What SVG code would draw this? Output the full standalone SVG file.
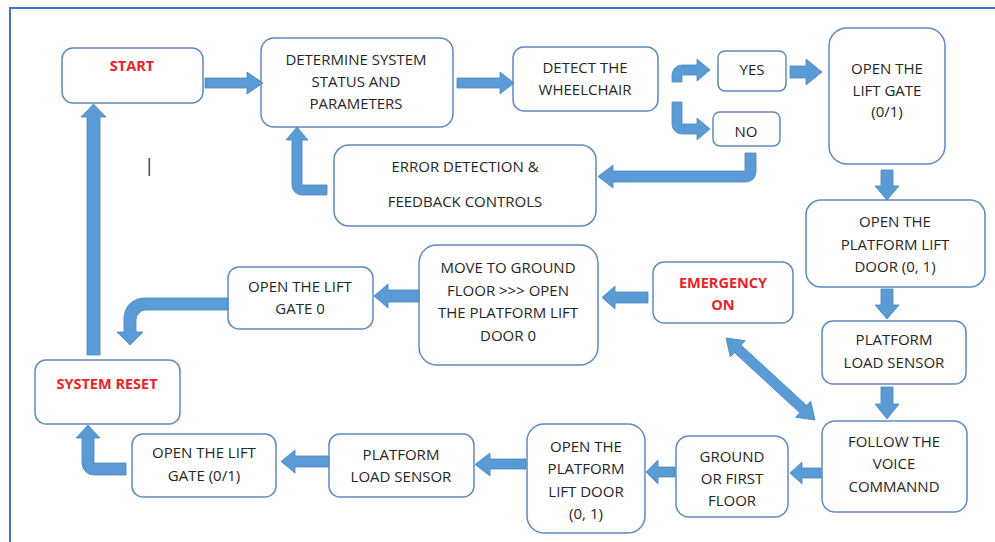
<svg xmlns="http://www.w3.org/2000/svg" width="995" height="542" viewBox="0 0 995 542">
<style>
.box{fill:#fff;stroke:#5F8BC0;stroke-width:1.5}
.t{font-family:"Open Sans","Liberation Sans",sans-serif;font-size:15px;fill:#262626;text-anchor:middle}
.r{fill:#E8242A;font-weight:bold;font-size:14.5px}
.arr{fill:#5B9BD5;stroke:#4A86C0;stroke-width:0.8}
</style>
<rect x="10" y="8" width="1000" height="560" fill="#fff" stroke="#4472C4" stroke-width="2"/>
<rect x="148.5" y="158" width="1.6" height="18" fill="#555"/>

<g id="start"><rect class="box" x="62" y="48" width="141" height="55" rx="11"/><text class="t r" x="132" y="71">START</text></g>
<g id="determine"><rect class="box" x="261" y="38" width="192" height="89" rx="13"/><text class="t" x="356" y="65">DETERMINE SYSTEM</text><text class="t" x="356" y="87">STATUS AND</text><text class="t" x="356" y="109">PARAMETERS</text></g>
<g id="detect"><rect class="box" x="513" y="47" width="145" height="64" rx="11"/><text class="t" x="585" y="73">DETECT THE</text><text class="t" x="585" y="95">WHEELCHAIR</text></g>
<g id="yes"><rect class="box" x="718" y="51" width="68" height="40" rx="7"/><text class="t" x="752" y="75">YES</text></g>
<g id="no"><rect class="box" x="713" y="112" width="67" height="34" rx="7"/><text class="t" x="746" y="137">NO</text></g>
<g id="gate1"><rect class="box" x="829" y="28" width="116" height="136" rx="18"/><text class="t" x="887" y="74">OPEN THE</text><text class="t" x="887" y="96">LIFT GATE</text><text class="t" x="887" y="117">(0/1)</text></g>
<g id="error"><rect class="box" x="334" y="145" width="262" height="81" rx="15"/><text class="t" x="465" y="172">ERROR DETECTION &amp;</text><text class="t" x="465" y="207">FEEDBACK CONTROLS</text></g>
<g id="pdoor1"><rect class="box" x="806" y="200" width="179" height="87" rx="15"/><text class="t" x="895" y="227">OPEN THE</text><text class="t" x="895" y="250">PLATFORM LIFT</text><text class="t" x="895" y="272">DOOR (0, 1)</text></g>
<g id="load1"><rect class="box" x="822" y="321" width="144" height="63" rx="11"/><text class="t" x="894" y="345">PLATFORM</text><text class="t" x="894" y="368">LOAD SENSOR</text></g>
<g id="voice"><rect class="box" x="822" y="421" width="145" height="91" rx="13"/><text class="t" x="894" y="447">FOLLOW THE</text><text class="t" x="894" y="469">VOICE</text><text class="t" x="894" y="492">COMMANND</text></g>
<g id="floor"><rect class="box" x="676" y="436" width="112" height="81" rx="13"/><text class="t" x="732" y="462">GROUND</text><text class="t" x="732" y="484">OR FIRST</text><text class="t" x="732" y="506">FLOOR</text></g>
<g id="pdoor2"><rect class="box" x="527" y="424" width="118" height="109" rx="17"/><text class="t" x="586" y="452">OPEN THE</text><text class="t" x="586" y="474">PLATFORM</text><text class="t" x="586" y="497">LIFT DOOR</text><text class="t" x="586" y="519">(0, 1)</text></g>
<g id="load2"><rect class="box" x="329" y="434" width="145" height="63" rx="11"/><text class="t" x="401" y="460">PLATFORM</text><text class="t" x="401" y="482">LOAD SENSOR</text></g>
<g id="gate2"><rect class="box" x="132" y="434" width="144" height="63" rx="11"/><text class="t" x="204" y="458">OPEN THE LIFT</text><text class="t" x="204" y="481">GATE (0/1)</text></g>
<g id="reset"><rect class="box" x="35" y="360" width="145" height="64" rx="11"/><text class="t r" x="107" y="389">SYSTEM RESET</text></g>
<g id="gate0"><rect class="box" x="228" y="267" width="145" height="62" rx="11"/><text class="t" x="300" y="292">OPEN THE LIFT</text><text class="t" x="300" y="314">GATE 0</text></g>
<g id="move"><rect class="box" x="419" y="245" width="179" height="120" rx="18"/><text class="t" x="508" y="273">MOVE TO GROUND</text><text class="t" x="508" y="296">FLOOR &gt;&gt;&gt; OPEN</text><text class="t" x="508" y="318">THE PLATFORM LIFT</text><text class="t" x="508" y="341">DOOR 0</text></g>
<g id="emergency"><rect class="box" x="653" y="262" width="140" height="61" rx="11"/><text class="t r" x="723" y="288">EMERGENCY</text><text class="t r" x="723" y="310">ON</text></g>

<g id="connectors">
<polygon class="arr" points="205,78 247,78 247,72 263,83 247,94 247,88 205,88"/>
<polygon class="arr" points="457,78 500,78 500,72 514,83 500,94 500,88 457,88"/>
<path class="arr" d="M672,82 V75 A10,10 0 0 1 682,65 H697 V59 L710,70 L697,81 V75 H682 V82 Z"/>
<path class="arr" d="M672,102 H682 V124 H697 V118 L710,129 L697,140 V134 H682 A10,10 0 0 1 672,124 Z"/>
<polygon class="arr" points="790,66 806,66 806,59 822,72 806,85 806,78 790,78"/>
<path class="arr" d="M745,153 H756 V172 A10,10 0 0 1 746,182 H613 V188 L598,176.5 L613,165 V171 H745 Z"/>
<path class="arr" d="M327,185 V195 H302 A10,10 0 0 1 292,185 V140 H286 L297,127 L308,140 H302 V185 Z"/>
<polygon class="arr" points="881,170 893,170 893,186 899,186 887,200 875,186 881,186"/>
<polygon class="arr" points="881,289 893,289 893,305 899,305 887,319 875,305 881,305"/>
<polygon class="arr" points="881,387 893,387 893,404 899,404 887,419 875,404 881,404"/>
<polygon class="arr" points="821,468 802,468 802,462 790,473 802,484 802,478 821,478"/>
<polygon class="arr" points="675,467 658,467 658,460 646,472 658,484 658,477 675,477"/>
<polygon class="arr" points="526,459 490,459 490,453 475,464.5 490,476 490,469 526,469"/>
<polygon class="arr" points="329,456 295,456 295,450 281,461.5 295,473 295,467 329,467"/>
<path class="arr" d="M126,463 V475 H94 A12,12 0 0 1 82,463 V438 H76 L88,425 L100,438 H94 V463 Z"/>
<polygon class="arr" points="87,355 87,117 81,117 93.5,104 106,117 100,117 100,355"/>
<path class="arr" d="M228,298 V310 H146 A10,10 0 0 0 136,320 V332 H143 L130,345 L117,332 H124 V318 A20,20 0 0 1 144,298 Z"/>
<polygon class="arr" points="419,290 388,290 388,284 374,296 388,308 388,302 419,302"/>
<polygon class="arr" points="648,292 615,292 615,286 602,297.5 615,309 615,303 648,303"/>
<polygon class="arr" transform="translate(726,338) rotate(42.66)" points="0,0 16,-11 16,-5 105,-5 105,-11 121,0 105,11 105,5 16,5 16,11"/>
</g>
</svg>
